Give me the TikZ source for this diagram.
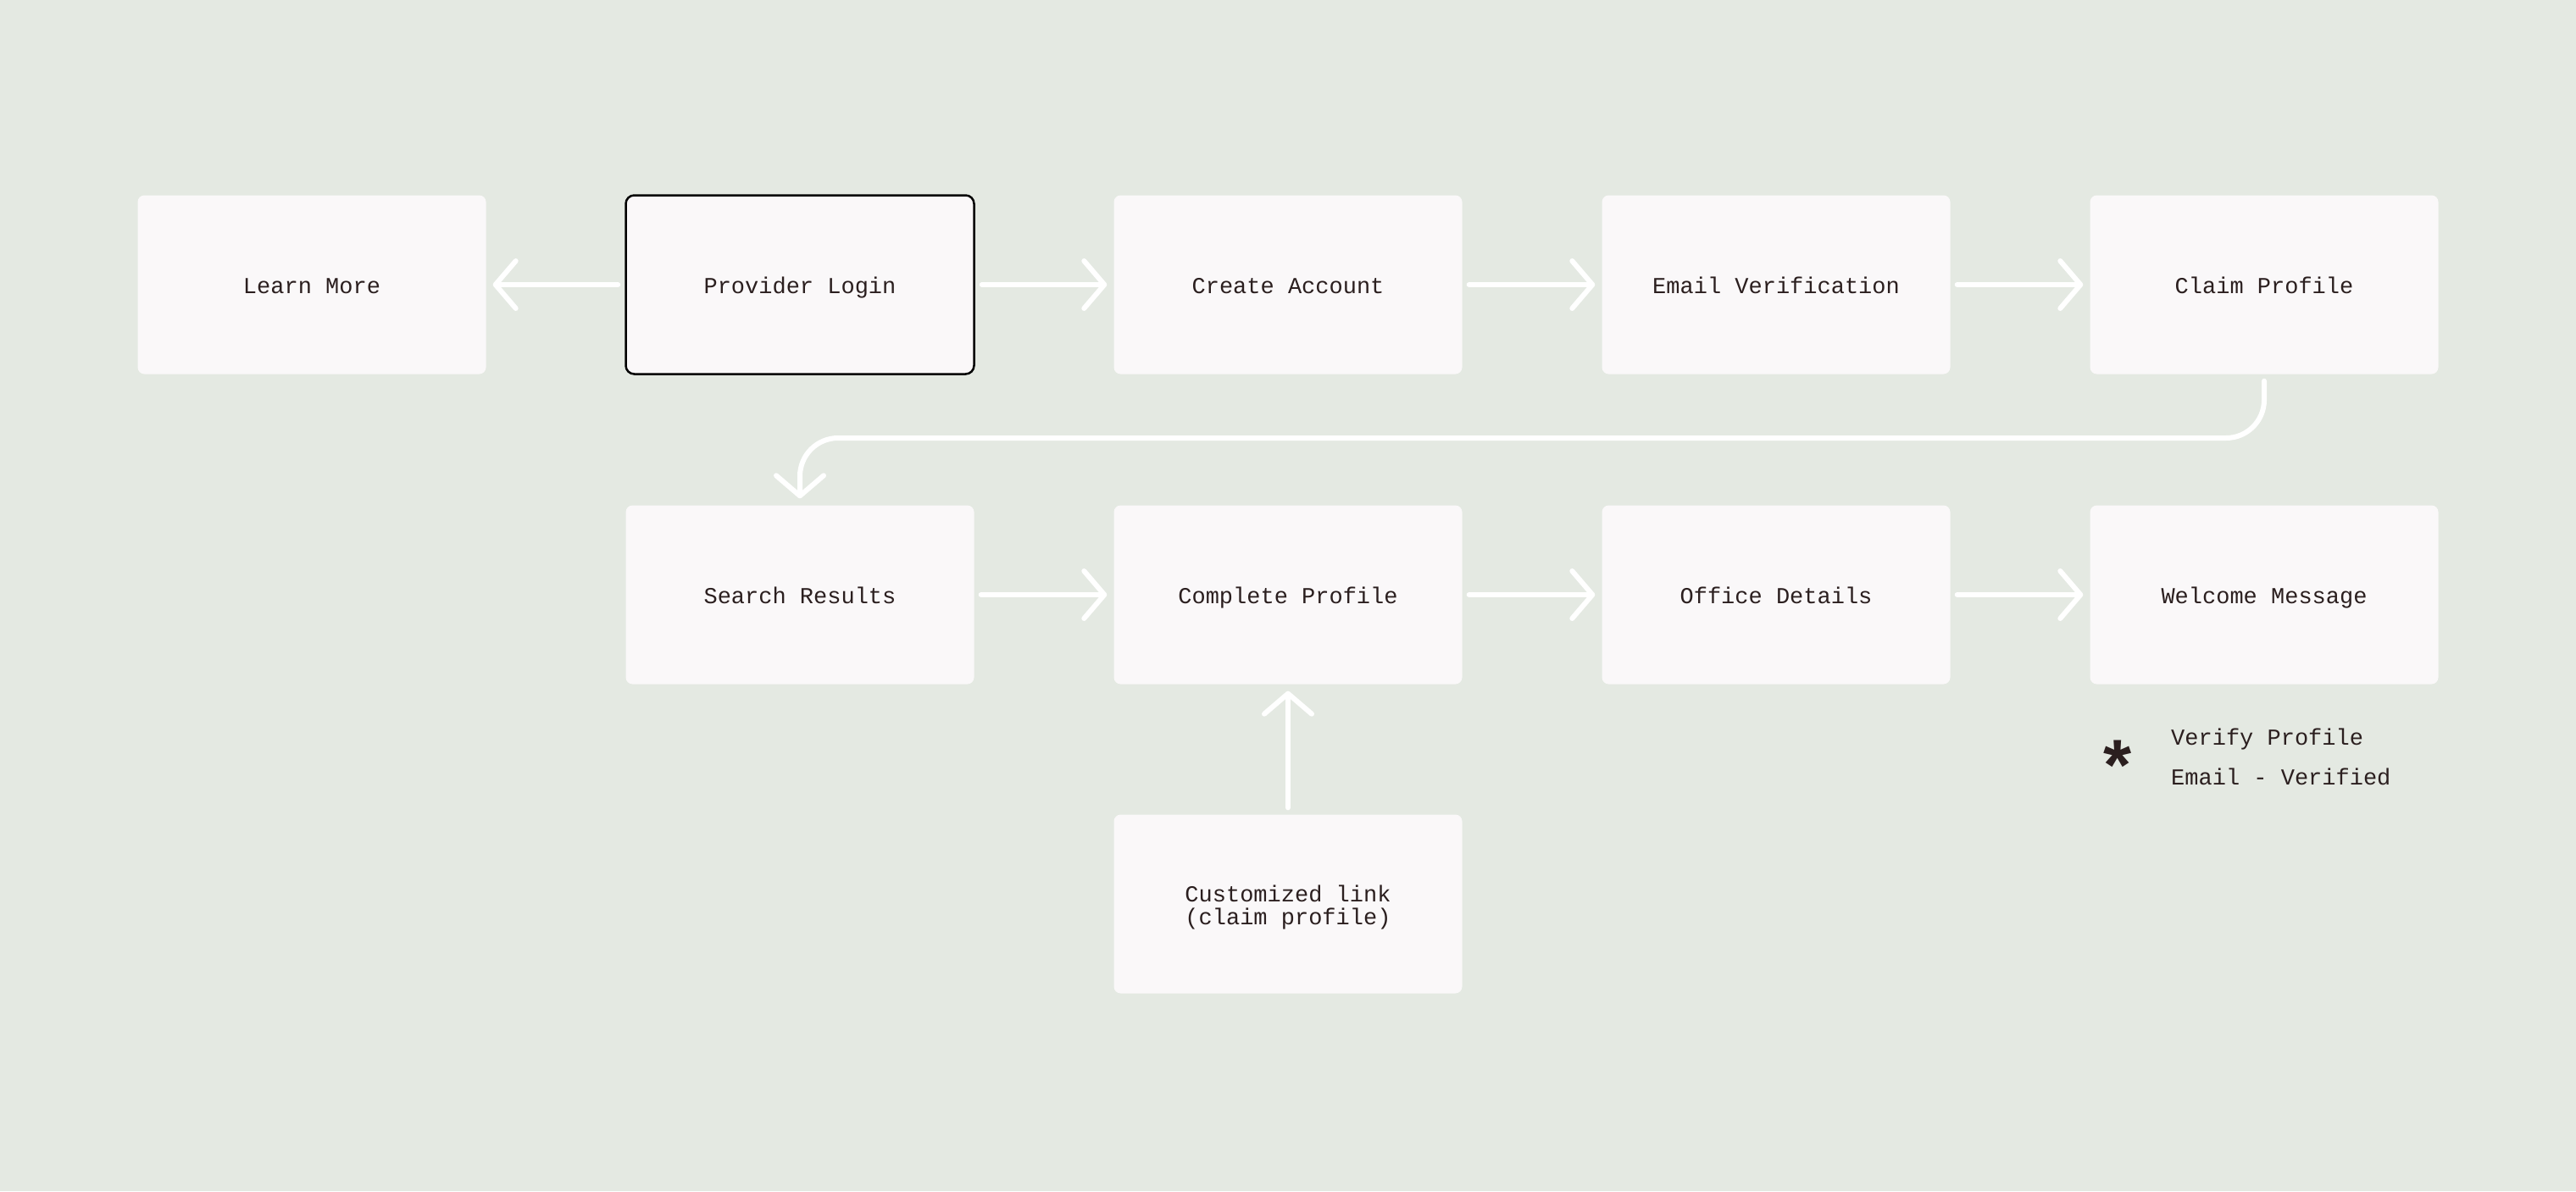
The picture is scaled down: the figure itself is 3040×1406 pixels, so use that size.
\documentclass[tikz,border=0pt]{standalone}
\usepackage{fontspec}
\setmonofont{Liberation Mono}
\setsansfont{Liberation Sans}
\usetikzlibrary{arrows.meta}
\definecolor{bgc}{RGB}{228,233,226}
\definecolor{boxc}{RGB}{250,248,249}
\definecolor{txtc}{RGB}{43,31,31}
\tikzset{
  basecard/.style={rectangle, rounded corners=8pt, fill=boxc, draw=none,
    minimum width=411pt, minimum height=211pt, inner sep=0pt,
    font=\ttfamily\fontsize{27}{27}\selectfont, text=txtc, align=center},
  card/.style={basecard, text height=25pt, text depth=5pt},
  cardsel/.style={card, draw=black, line width=2.5pt, rounded corners=10pt},
  conn/.style={draw=white, line width=6pt, line cap=round, line join=round,
    -{Straight Barb[length=24pt,width=56pt,line width=6pt,round]}},
  legendtxt/.style={font=\ttfamily\fontsize{27}{27}\selectfont, text=txtc, anchor=base west, inner sep=0pt},
}
\begin{document}
\begin{tikzpicture}[x=1pt,y=-1pt]
\fill[bgc] (0,0) rectangle (3040,1406);
\useasboundingbox (0,0) rectangle (3040,1406);
% row 1
\node[card] (learn) at (368,336) {Learn More};
\node[cardsel] (login) at (944,336) {Provider Login};
\node[card] (create) at (1520,336) {Create Account};
\node[card] (email) at (2096,336) {Email Verification};
\node[card] (claim) at (2672,336) {Claim Profile};
% row 2
\node[card] (search) at (944,702) {Search Results};
\node[card] (complete) at (1520,702) {Complete Profile};
\node[card] (office) at (2096,702) {Office Details};
\node[card] (welcome) at (2672,702) {Welcome Message};
% row 3
\node[basecard, text height=51pt, text depth=3pt] (custom) at (1520,1067) {Customized link\\(claim profile)};
% connectors
\draw[conn] ([xshift=-8pt]login.west) -- ([xshift=8pt]learn.east);
\draw[conn] ([xshift=8pt]login.east) -- ([xshift=-8pt]create.west);
\draw[conn] ([xshift=8pt]create.east) -- ([xshift=-8pt]email.west);
\draw[conn] ([xshift=8pt]email.east) -- ([xshift=-8pt]claim.west);
\coordinate (mid) at (1800,517);
\draw[conn, rounded corners=45pt] ([yshift=-8pt]claim.south) -- (claim.south |- mid) -- (search.north |- mid) -- ([yshift=8pt]search.north);
\draw[conn] ([xshift=8pt]search.east) -- ([xshift=-8pt]complete.west);
\draw[conn] ([xshift=8pt]complete.east) -- ([xshift=-8pt]office.west);
\draw[conn] ([xshift=8pt]office.east) -- ([xshift=-8pt]welcome.west);
\draw[conn] ([yshift=8pt]custom.north) -- ([yshift=-8pt]complete.south);
% legend
\node[font=\sffamily\bfseries\fontsize{85}{85}\selectfont, text=txtc, inner sep=0pt] (star) at (2499,903) {*};
\node[legendtxt] (leg1) at (2562,879) {Verify Profile};
\node[legendtxt] (leg2) at (2562,926) {Email - Verified};
\end{tikzpicture}
\end{document}
